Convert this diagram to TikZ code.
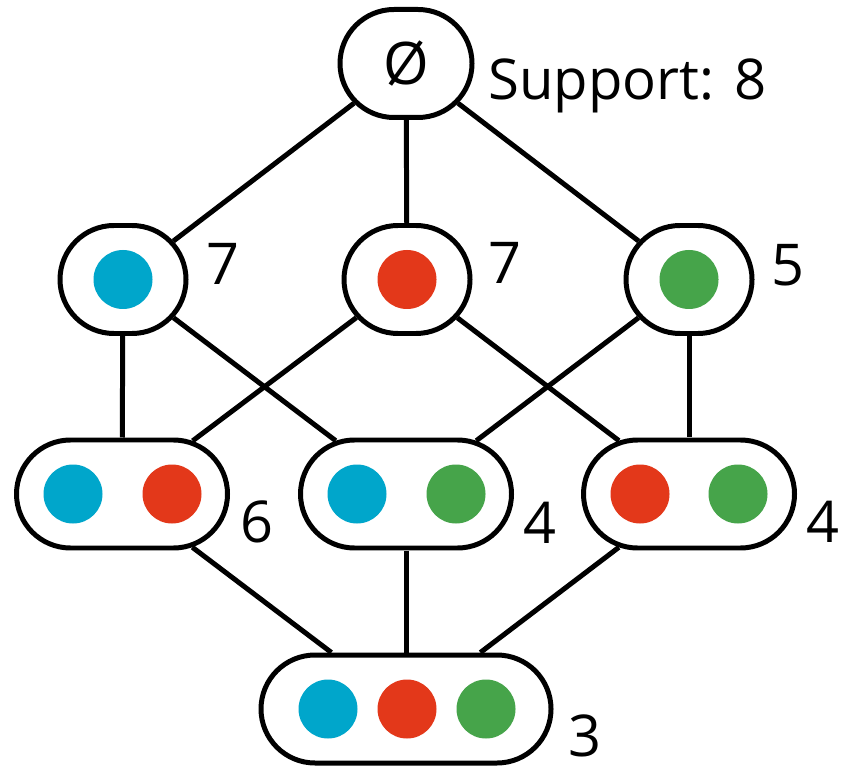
\documentclass[tikz,border=0pt]{standalone}
\usepackage{fontspec}
\setmainfont{Open Sans}
\usetikzlibrary{positioning,shapes.misc,calc}
\definecolor{sky}{HTML}{00A6CB}
\definecolor{tomato}{HTML}{E3381A}
\definecolor{leaf}{HTML}{46A44A}

\begin{document}
\begin{tikzpicture}[x=1cm,y=1cm,line width=1.42pt,
    set/.style={draw,rounded rectangle,fill=white,inner sep=0pt,
      minimum height=1.08cm,font=\fontsize{16.7}{20}\selectfont},
    num/.style={anchor=base west,inner sep=0pt,font=\fontsize{16.4}{20}\selectfont}]
    \useasboundingbox (0,0) rectangle (8.41,7.65);
    % lattice of itemsets
    \node[set,minimum width=1.32cm] (e) at (4.06,7.015) {Ø};
    \node[set,minimum width=1.26cm] (b) at (1.23,4.855) {};
    \node[set,minimum width=1.26cm] (r) at (4.07,4.855) {};
    \node[set,minimum width=1.26cm] (g) at (6.89,4.855) {};
    \node[set,minimum width=2.11cm] (br) at (1.22,2.71) {};
    \node[set,minimum width=2.11cm] (bg) at (4.06,2.71) {};
    \node[set,minimum width=2.11cm] (rg) at (6.89,2.71) {};
    \node[set,minimum width=2.90cm] (brg) at (4.06,0.56) {};
    \foreach \a/\b in {e/b,e/r,e/g,b/br,b/bg,r/br,r/rg,g/bg,g/rg,br/brg,bg/brg,rg/brg}
      \draw (\a) -- (\b);
    % items
    \fill[sky] (b) circle (0.295);
    \fill[tomato] (r) circle (0.295);
    \fill[leaf] (g) circle (0.295);
    \fill[sky] ($(br)+(-0.49,0)$) circle (0.295);
    \fill[tomato] ($(br)+(0.50,0)$) circle (0.295);
    \fill[sky] ($(bg)+(-0.49,0)$) circle (0.295);
    \fill[leaf] ($(bg)+(0.50,0)$) circle (0.295);
    \fill[tomato] ($(rg)+(-0.49,0)$) circle (0.295);
    \fill[leaf] ($(rg)+(0.49,0)$) circle (0.295);
    \foreach \dx/\c in {-0.78/sky,0.01/tomato,0.80/leaf}
      \fill[\c] ($(brg)+(\dx,0)$) circle (0.295);
    % support counts
    \node[num,font=\fontsize{16}{20}\selectfont] (se) at (4.86,6.65) {Support: 8};
    \node[num] (sb) at (2.04,4.80) {7};
    \node[num] (sr) at (4.86,4.81) {7};
    \node[num] (sg) at (7.69,4.79) {5};
    \node[num] (sbr) at (2.38,2.23) {6};
    \node[num] (sbg) at (5.21,2.22) {4};
    \node[num] (srg) at (8.04,2.23) {4};
    \node[num] (sbrg) at (5.66,0.09) {3};
\end{tikzpicture}
\end{document}
